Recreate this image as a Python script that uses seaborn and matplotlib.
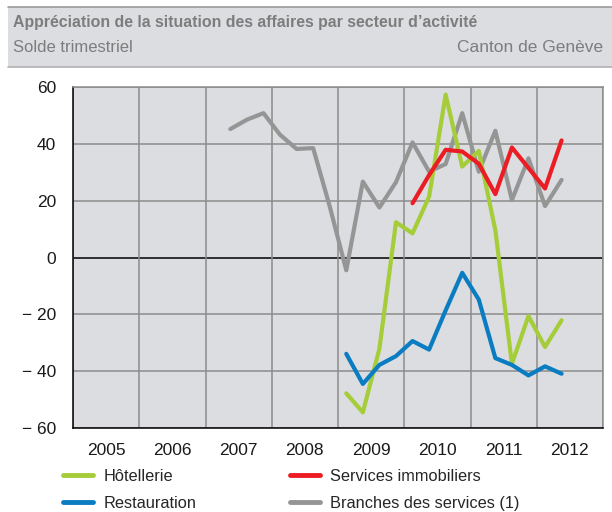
import pandas as pd
import seaborn as sns
import matplotlib.pyplot as plt
from matplotlib.patches import Rectangle
from matplotlib.lines import Line2D

# quarterly balances, 2007 Q2 -> 2012 Q2
quarters_branches = ['2007Q2', '2007Q3', '2007Q4', '2008Q1', '2008Q2', '2008Q3', '2008Q4',
                     '2009Q1', '2009Q2', '2009Q3', '2009Q4', '2010Q1', '2010Q2', '2010Q3',
                     '2010Q4', '2011Q1', '2011Q2', '2011Q3', '2011Q4', '2012Q1', '2012Q2']
branches = [45.2, 48.5, 50.8, 43.2, 38.2, 38.5, 18.0,
            -4.5, 26.7, 17.6, 26.5, 40.5, 30.2, 32.9,
            50.8, 30.2, 44.6, 20.2, 34.9, 18.1, 27.3]

quarters_hotel = ['2009Q1', '2009Q2', '2009Q3', '2009Q4', '2010Q1', '2010Q2', '2010Q3',
                  '2010Q4', '2011Q1', '2011Q2', '2011Q3', '2011Q4', '2012Q1', '2012Q2']
hotellerie = [-47.8, -54.5, -32.1, 12.4, 8.5, 21.4, 57.3,
              32.0, 37.5, 9.6, -37.4, -20.6, -31.5, -22.1]
restauration = [-33.9, -44.5, -37.8, -34.7, -29.4, -32.4, -18.6,
                -5.4, -14.8, -35.4, -37.8, -41.5, -38.3, -40.9]

quarters_immo = ['2010Q1', '2010Q2', '2010Q3', '2010Q4', '2011Q1', '2011Q2',
                 '2011Q3', '2011Q4', '2012Q1', '2012Q2']
immobiliers = [19.1, 29.0, 37.9, 37.3, 33.0, 22.3, 38.7, 31.5, 24.3, 41.2]

years = [2005, 2006, 2007, 2008, 2009, 2010, 2011, 2012]
y_ticks = [60, 40, 20, 0, -20, -40, -60]
y_labels = ['60', '40', '20', '0', '\u2212 20', '\u2212 40', '\u2212 60']

series_names = ['Hôtellerie', 'Restauration', 'Services immobiliers', 'Branches des services (1)']
colors = {'Hôtellerie': '#a5cd39', 'Restauration': '#0a7cc1',
          'Services immobiliers': '#ec1c24', 'Branches des services (1)': '#959595'}


def to_pos(q):
    return int(q[:4]) + (int(q[-1]) - 0.5) / 4


rows = []
for name, qs, vals in [('Branches des services (1)', quarters_branches, branches),
                       ('Hôtellerie', quarters_hotel, hotellerie),
                       ('Restauration', quarters_hotel, restauration),
                       ('Services immobiliers', quarters_immo, immobiliers)]:
    for q, v in zip(qs, vals):
        rows.append({'serie': name, 'pos': to_pos(q), 'solde': v})
df = pd.DataFrame(rows)

sns.set_style('white')
plt.rcParams['font.family'] = ['Liberation Sans', 'DejaVu Sans']

W, H = 612, 512
fig = plt.figure(figsize=(W / 100, H / 100), dpi=100)

# header band
fig.patches.append(Rectangle((8 / W, 1 - 67 / H), 1, 60 / H, transform=fig.transFigure,
                             facecolor='#dcdde0', edgecolor='none', zorder=0))
fig.add_artist(Line2D([8 / W, 1], [1 - 7 / H, 1 - 7 / H], color='#9a9a9a', lw=1.2))
fig.add_artist(Line2D([8 / W, 1], [1 - 67 / H, 1 - 67 / H], color='#b0b0b0', lw=1.2))
fig.text(13 / W, 1 - 22.5 / H, 'Appréciation de la situation des affaires par secteur d\u2019activité',
         fontsize=11.4, fontweight='bold', color='#7d7d7d', va='center', ha='left')
fig.text(13 / W, 1 - 48 / H, 'Solde trimestriel', fontsize=12, color='#7d7d7d',
         va='center', ha='left')
fig.text(603 / W, 1 - 48 / H, 'Canton de Genève', fontsize=12.5, color='#7d7d7d',
         va='center', ha='right')

ax = fig.add_axes([73 / W, (H - 428) / H, 530 / W, (428 - 87) / H])
ax.set_facecolor('#dcdde0')

for yv in y_ticks:
    ax.axhline(yv, color='#000000' if yv == 0 else '#8c8c8c', lw=1.1, zorder=1)
for yr in years + [2013]:
    ax.axvline(yr, color='#8c8c8c', lw=1.1, zorder=1)

for name in ['Branches des services (1)', 'Hôtellerie', 'Restauration', 'Services immobiliers']:
    sns.lineplot(data=df[df['serie'] == name], x='pos', y='solde', color=colors[name],
                 lw=3, ax=ax, zorder=3, legend=False)

ax.set_xlim(2005, 2013)
ax.set_ylim(-60, 60)
ax.set_xlabel('')
ax.set_ylabel('')
ax.set_yticks(y_ticks)
ax.set_yticklabels(y_labels, fontsize=12.5, color='#1a1a1a')
ax.set_xticks(years + [2013])
ax.set_xticklabels([])
ax.set_xticks([y + 0.5 for y in years], minor=True)
ax.set_xticklabels([str(y) for y in years], minor=True, fontsize=12.5, color='#1a1a1a')
ax.tick_params(axis='x', which='major', direction='out', length=8, width=1, color='#000000')
ax.tick_params(axis='x', which='minor', length=0, pad=11)
ax.tick_params(axis='y', direction='out', length=8, width=1, color='#000000', pad=4)

for side in ['left', 'bottom']:
    ax.spines[side].set_color('#000000')
    ax.spines[side].set_linewidth(1.1)
for side in ['top', 'right']:
    ax.spines[side].set_color('#8c8c8c')
    ax.spines[side].set_linewidth(1.1)

# two single-column legends so each column sits where it does in the original
for names, x0 in [(series_names[:2], 63), (series_names[2:], 290)]:
    handles = [Line2D([], [], color=colors[n], lw=3.5) for n in names]
    fig.legend(handles, names, ncol=1, loc='upper left', bbox_to_anchor=(x0 / W, 1 - 469 / H),
               frameon=False, fontsize=11.8, handlelength=1.85, handletextpad=0.6,
               labelspacing=0.72, borderaxespad=0, borderpad=0)

fig.savefig('out.png', dpi=100)
